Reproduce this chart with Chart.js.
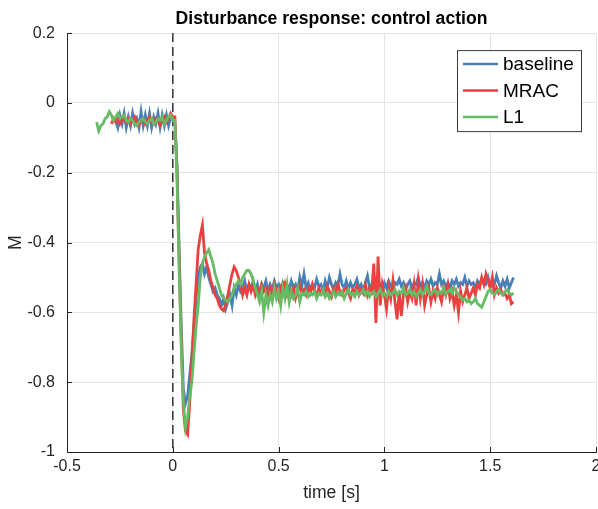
<!DOCTYPE html>
<html lang="en">
<head>
  <meta charset="UTF-8">
  <title>Disturbance response: control action</title>
  <!-- Chart.js -->
  <script src="https://cdn.jsdelivr.net/npm/chart.js"></script>
  <style>
    html, body {
      margin: 0;
      padding: 0;
      background: #ffffff;
    }
    .chart-box {
      width: 598px;
      height: 509px;
    }
  </style>
</head>
<body>
  <div class="chart-box">
    <canvas id="respChart" width="598" height="509"></canvas>
  </div>

  <script>
    // sampling grid: -0.36 s .. 1.61 s every 10 ms (198 samples)
    const tStart = -0.36;
    const tStep = 0.01;
    const nSamples = 198;

    // tick labels
    const xTicks = [-0.5, 0, 0.5, 1, 1.5, 2];
    const yTicks = [-1, -0.8, -0.6, -0.4, -0.2, 0, 0.2];

    // series (null = not logged yet)
    const baseline = [
      null, null, null, null, null, null, null, null, null,
      -0.05, -0.07, -0.035, -0.06, -0.03, -0.07, -0.04, -0.065, -0.03, -0.06,
      -0.045, -0.07, -0.025, -0.065, -0.035, -0.065, -0.03, -0.07, -0.04, -0.06,
      -0.03, -0.07, -0.035, -0.065, -0.035, -0.065, -0.04, -0.05,
      // step
      -0.06, -0.18, -0.42, -0.64, -0.82, -0.86, -0.84, -0.78, -0.72, -0.64,
      -0.56, -0.50, -0.47, -0.46, -0.49, -0.47, -0.50, -0.52, -0.54, -0.53,
      -0.55, -0.56, -0.58, -0.56, -0.59, -0.57, -0.55, -0.58, -0.53, -0.55,
      -0.52, -0.54, -0.53, -0.51, -0.54, -0.52, -0.53, -0.51, -0.54, -0.52,
      -0.55, -0.52, -0.53, -0.51, -0.54,
      // steady state
      -0.52, -0.535, -0.51, -0.53, -0.52, -0.54, -0.515, -0.53, -0.52, -0.535,
      -0.51, -0.53, -0.52, -0.54, -0.50, -0.525, -0.49, -0.53, -0.515, -0.535,
      -0.52, -0.53, -0.505, -0.525, -0.52, -0.54, -0.51, -0.53, -0.50, -0.52,
      -0.535, -0.515, -0.525, -0.49, -0.52, -0.53, -0.51, -0.535, -0.515, -0.53,
      -0.52, -0.505, -0.53, -0.52, -0.54, -0.515, -0.495, -0.53, -0.52, -0.535,
      -0.51, -0.525, -0.52, -0.54, -0.515, -0.53, -0.51, -0.525, -0.535, -0.515,
      -0.52, -0.505, -0.525, -0.515, -0.535, -0.52, -0.51, -0.53, -0.515, -0.52,
      -0.50, -0.525, -0.515, -0.53, -0.51, -0.52, -0.505, -0.525, -0.515, -0.52,
      -0.49, -0.52, -0.51, -0.525, -0.515, -0.53, -0.51, -0.52, -0.505, -0.525,
      -0.515, -0.52, -0.50, -0.525, -0.51, -0.52, -0.515, -0.53, -0.51, -0.52,
      -0.505, -0.515, -0.52, -0.50, -0.525, -0.51, -0.52, -0.495, -0.515, -0.53,
      -0.51, -0.525, -0.505, -0.53, -0.515, -0.50
    ];

    const mrac = [
      null, null, null, null, null, null, null,
      -0.06, -0.045, -0.055, -0.04, -0.06, -0.05, -0.04, -0.055, -0.045, -0.06,
      -0.05, -0.04, -0.055, -0.065, -0.05, -0.045, -0.06, -0.05, -0.04, -0.055,
      -0.06, -0.045, -0.05, -0.065, -0.05, -0.04, -0.055, -0.045, -0.03, -0.04,
      // step
      -0.04, -0.20, -0.45, -0.68, -0.88, -0.94, -0.95, -0.86, -0.74, -0.62,
      -0.52, -0.42, -0.38, -0.35, -0.43, -0.46, -0.48, -0.51, -0.53, -0.55,
      -0.56, -0.58, -0.59, -0.595, -0.58, -0.55, -0.52, -0.49, -0.47, -0.48,
      -0.50, -0.52, -0.55, -0.53, -0.55, -0.52, -0.54, -0.52, -0.55, -0.53,
      -0.54, -0.52, -0.54, -0.53, -0.55,
      // steady state
      -0.53, -0.55, -0.52, -0.54, -0.56, -0.53, -0.545, -0.52, -0.55, -0.535,
      -0.55, -0.53, -0.56, -0.54, -0.52, -0.545, -0.535, -0.55, -0.53, -0.545,
      -0.52, -0.54, -0.55, -0.53, -0.545, -0.535, -0.55, -0.525, -0.54, -0.555,
      -0.53, -0.545, -0.52, -0.54, -0.55, -0.535, -0.53, -0.545, -0.56, -0.535,
      -0.54, -0.525, -0.55, -0.535, -0.545, -0.52, -0.55, -0.53, -0.54, -0.46,
      -0.63, -0.44, -0.58, -0.52, -0.55, -0.59, -0.53, -0.56, -0.51, -0.57,
      -0.62, -0.54, -0.61, -0.55, -0.53, -0.57, -0.54, -0.56, -0.52, -0.58,
      -0.51, -0.56, -0.52, -0.58, -0.55, -0.53, -0.57, -0.54, -0.56, -0.53,
      -0.55, -0.57, -0.53, -0.55, -0.52, -0.56, -0.54, -0.58, -0.55, -0.60,
      -0.54, -0.57, -0.55, -0.53, -0.56, -0.545, -0.53, -0.55, -0.52, -0.53,
      -0.50, -0.52, -0.49, -0.51, -0.53, -0.50, -0.55, -0.53, -0.545, -0.535,
      -0.55, -0.545, -0.56, -0.55, -0.575, -0.57
    ];

    const l1 = [
      -0.055, -0.08, -0.065, -0.06, -0.045, -0.04, -0.025, -0.035, -0.05, -0.04,
      -0.03, -0.045, -0.04, -0.035, -0.05, -0.055, -0.045, -0.05, -0.06, -0.065,
      -0.055, -0.05, -0.045, -0.055, -0.06, -0.05, -0.045, -0.06, -0.055, -0.045,
      -0.05, -0.04, -0.06, -0.05, -0.04, -0.035, -0.05,
      // step
      -0.05, -0.22, -0.48, -0.70, -0.86, -0.93, -0.90, -0.84, -0.80, -0.72,
      -0.64, -0.58, -0.50, -0.46, -0.44, -0.43, -0.42, -0.44, -0.46, -0.49,
      -0.51, -0.53, -0.55, -0.56, -0.565, -0.57, -0.56, -0.55, -0.53, -0.52,
      -0.51, -0.52, -0.50, -0.49, -0.48, -0.48, -0.49, -0.51, -0.53, -0.55,
      -0.57, -0.54, -0.60, -0.55, -0.58,
      // steady state
      -0.55, -0.57, -0.53, -0.56, -0.54, -0.58, -0.53, -0.56, -0.52, -0.57,
      -0.54, -0.56, -0.55, -0.53, -0.57, -0.545, -0.55, -0.54, -0.555, -0.545,
      -0.55, -0.54, -0.56, -0.545, -0.55, -0.535, -0.555, -0.545, -0.56, -0.55,
      -0.54, -0.555, -0.545, -0.55, -0.54, -0.56, -0.545, -0.535, -0.55, -0.545,
      -0.555, -0.54, -0.55, -0.545, -0.535, -0.55, -0.54, -0.555, -0.545, -0.54,
      -0.555, -0.545, -0.535, -0.55, -0.545, -0.555, -0.54, -0.55, -0.545, -0.535,
      -0.55, -0.54, -0.545, -0.53, -0.55, -0.545, -0.535, -0.55, -0.54, -0.555,
      -0.545, -0.535, -0.55, -0.54, -0.525, -0.545, -0.55, -0.54, -0.535, -0.55,
      -0.54, -0.545, -0.53, -0.55, -0.54, -0.535, -0.545, -0.53, -0.54, -0.55,
      -0.555, -0.565, -0.56, -0.57, -0.565, -0.575, -0.57, -0.56, -0.575, -0.58,
      -0.585, -0.57, -0.555, -0.54, -0.535, -0.545, -0.55, -0.54, -0.535, -0.545,
      -0.55, -0.54, -0.535, -0.545, -0.55, -0.545
    ];

    // disturbance onset marker
    const stepTime = 0;

    const FONT = '"Liberation Sans", Arial, Helvetica, sans-serif';

    const time = [];
    for (let i = 0; i < nSamples; i++) {
      time.push(Math.round((tStart + i * tStep) * 1000) / 1000);
    }

    function toPoints(vals) {
      return time.map((t, i) => ({ x: t, y: vals[i] }));
    }

    // MATLAB style ticks pointing into the axes
    const innerTicks = {
      id: 'innerTicks',
      afterDatasetsDraw(chart) {
        const { ctx, chartArea: ca, scales: { x, y } } = chart;
        ctx.save();
        ctx.strokeStyle = '#262626';
        ctx.lineWidth = 1;
        ctx.beginPath();
        y.ticks.forEach(tk => {
          const py = Math.round(y.getPixelForValue(tk.value)) + 0.5;
          ctx.moveTo(ca.left, py);
          ctx.lineTo(ca.left + 5, py);
        });
        x.ticks.forEach(tk => {
          const px = Math.round(x.getPixelForValue(tk.value)) + 0.5;
          ctx.moveTo(px, ca.bottom);
          ctx.lineTo(px, ca.bottom - 5);
        });
        ctx.stroke();
        ctx.restore();
      }
    };

    // boxed legend in the upper right of the axes
    const boxLegend = {
      id: 'boxLegend',
      afterDraw(chart) {
        const { ctx, chartArea: ca } = chart;
        const items = chart.data.datasets.filter(d => d.label);
        const x0 = ca.right - 139, y0 = ca.top + 17, w = 124, h = 81;
        ctx.save();
        ctx.fillStyle = '#ffffff';
        ctx.fillRect(x0, y0, w, h);
        ctx.strokeStyle = '#3a3a3a';
        ctx.lineWidth = 1;
        ctx.strokeRect(x0 + 0.5, y0 + 0.5, w, h);
        ctx.font = '19px ' + FONT;
        ctx.textBaseline = 'middle';
        items.forEach((d, i) => {
          const ly = y0 + 14 + i * 26.5;
          ctx.strokeStyle = d.borderColor;
          ctx.lineWidth = 2.5;
          ctx.beginPath();
          ctx.moveTo(x0 + 6, ly);
          ctx.lineTo(x0 + 41, ly);
          ctx.stroke();
          ctx.fillStyle = '#000000';
          ctx.fillText(d.label, x0 + 46, ly + 1);
        });
        ctx.restore();
      }
    };

    const fmt = v => String(Math.round(v * 10) / 10);

    new Chart(document.getElementById('respChart').getContext('2d'), {
      type: 'line',
      data: {
        datasets: [
          {
            label: 'baseline',
            data: toPoints(baseline),
            borderColor: '#4a80b8',
            borderWidth: 2.8,
            pointRadius: 0,
            order: 3
          },
          {
            label: 'MRAC',
            data: toPoints(mrac),
            borderColor: '#e8413f',
            borderWidth: 2.8,
            pointRadius: 0,
            order: 2
          },
          {
            label: 'L1',
            data: toPoints(l1),
            borderColor: '#67bb64',
            borderWidth: 2.8,
            pointRadius: 0,
            order: 1
          },
          {
            data: [{ x: stepTime, y: yTicks[yTicks.length - 1] }, { x: stepTime, y: yTicks[0] }],
            borderColor: '#3c3c3c',
            borderWidth: 1.6,
            borderDash: [9, 5],
            pointRadius: 0,
            order: 5
          }
        ]
      },
      options: {
        responsive: false,
        animation: false,
        events: [],
        layout: { padding: { left: 0, right: 2, top: 0, bottom: 0 } },
        plugins: {
          legend: { display: false },
          tooltip: { enabled: false },
          title: {
            display: true,
            text: 'Disturbance response: control action',
            fullSize: false,
            color: '#000000',
            font: { family: FONT, size: 17.6, weight: 'bold' },
            padding: { top: 9, bottom: 3 }
          }
        },
        scales: {
          x: {
            type: 'linear',
            min: xTicks[0],
            max: xTicks[xTicks.length - 1],
            afterBuildTicks: s => { s.ticks = xTicks.map(v => ({ value: v })); },
            ticks: {
              color: '#262626',
              font: { family: FONT, size: 16 },
              padding: 5,
              maxRotation: 0,
              autoSkip: false,
              callback: fmt
            },
            grid: { color: '#e4e4e4', drawTicks: false },
            border: { display: true, color: '#262626' },
            title: {
              display: true,
              text: 'time [s]',
              color: '#262626',
              font: { family: FONT, size: 17.6 },
              padding: { top: 2, bottom: 5 }
            },
            afterFit(s) {
              s.height = 57;
              s.paddingLeft = 0;
              s.paddingRight = 0;
            }
          },
          y: {
            min: yTicks[0],
            max: yTicks[yTicks.length - 1],
            afterBuildTicks: s => { s.ticks = yTicks.map(v => ({ value: v })); },
            ticks: {
              color: '#262626',
              font: { family: FONT, size: 16 },
              padding: 12,
              autoSkip: false,
              callback: fmt
            },
            grid: { color: '#e4e4e4', drawTicks: false },
            border: { display: true, color: '#262626' },
            title: {
              display: true,
              text: 'M',
              color: '#262626',
              font: { family: FONT, size: 17.6 },
              padding: { top: 6, bottom: 0 }
            },
            afterFit(s) {
              s.width = 67;
            }
          }
        }
      },
      plugins: [innerTicks, boxLegend]
    });
  </script>
</body>
</html>
